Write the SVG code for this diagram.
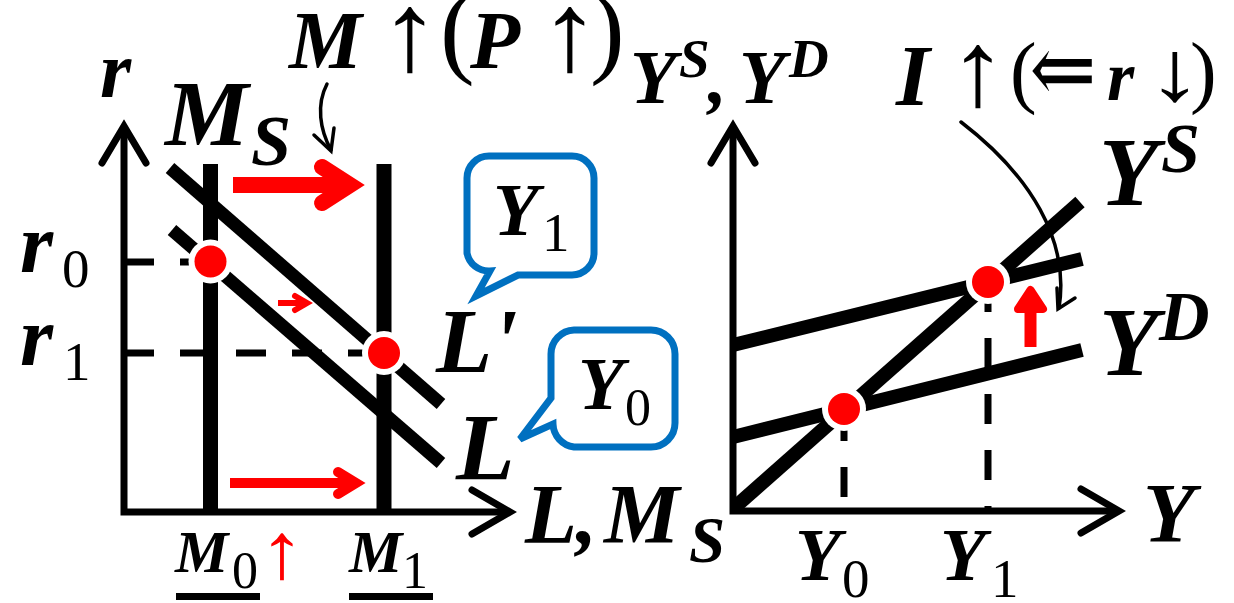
<svg xmlns="http://www.w3.org/2000/svg" width="1234" height="603" viewBox="0 0 1234 603">
<style>
.ax{fill:none;stroke:#000;stroke-width:7;stroke-linejoin:miter}
.ah{fill:none;stroke:#000;stroke-width:7;stroke-linecap:round;stroke-linejoin:miter}
.thick{fill:none;stroke:#000;stroke-width:14;stroke-linecap:butt}
.dash{fill:none;stroke:#000;stroke-width:7;stroke-dasharray:30 26}
.thin{fill:none;stroke:#000;stroke-width:3.5;stroke-linecap:round;stroke-linejoin:miter}
.red{fill:none;stroke:#FF0000;stroke-linecap:butt}
.redh{fill:none;stroke:#FF0000;stroke-linecap:round;stroke-linejoin:miter;stroke-miterlimit:10}
.bub{fill:#fff;stroke:#0070C0;stroke-width:7;stroke-linejoin:miter}
.v{font-family:"Liberation Serif","Times New Roman",serif;font-weight:bold;font-style:italic;fill:#000}
.n{font-family:"Liberation Serif","Times New Roman",serif;font-weight:normal;font-style:normal;fill:#000}
.s{font-family:"Liberation Serif","DejaVu Serif",serif;font-weight:normal;fill:#000}
.c{text-anchor:middle}
</style>

<g id="left-axes">
  <path class="ax" d="M124,126 V512 H510"/>
  <path class="ah" d="M102,163 L124,126 L146,163"/>
  <path class="ah" d="M472,490 L510,512 L472,534"/>
</g>

<g id="right-axes">
  <path class="ax" d="M733,126 V511 H1119"/>
  <path class="ah" d="M711,163 L733,126 L755,163"/>
  <path class="ah" d="M1081,489 L1119,511 L1081,533"/>
</g>

<g id="connectors">
  <path class="dash" d="M124,262 H210"/>
  <path class="dash" d="M124,353 H384"/>
  <path class="thick" style="stroke-width:15" d="M210.5,164 V512"/>
  <path class="thick" style="stroke-width:15" d="M384,164 V512"/>
  <path class="thick" style="stroke-width:13" d="M170,168 L441,404"/>
  <path class="thick" style="stroke-width:13" d="M172,230 L441,463"/>
  <path class="red" style="stroke-width:16" d="M233,185 H350"/>
  <path class="redh" style="stroke-width:16" d="M322,167 L350,185 L322,203"/>
  <path class="red" style="stroke-width:10" d="M230,483 H352"/>
  <path class="redh" style="stroke-width:10" d="M338,472 L356,483 L338,494"/>
  <path class="red" style="stroke-width:6" d="M278,303 H305"/>
  <path class="redh" style="stroke-width:6" d="M295,296 L307,303 L295,310"/>
  <path class="thin" d="M327,84 C316,105 320,130 331,150"/>
  <path class="thin" d="M314,135 L331,151 L334,128"/>
  <path class="dash" d="M844,411 V512"/>
  <path class="dash" d="M988,282 V511"/>
  <path class="thick" d="M735,507 L1080,202"/>
  <path class="thick" d="M733,437 L1082,350"/>
  <path class="thick" d="M733,345 L1082,259"/>
  <path class="red" style="stroke-width:12" d="M1030.5,347 V300"/>
  <path style="fill:#FF0000;stroke:#FF0000;stroke-width:8;stroke-linejoin:round" d="M1018,309 L1030.5,290 L1043,309 Z"/>
  <path class="thin" d="M961,122 C1030,175 1070,240 1059,308"/>
  <path class="thin" d="M1057,288 L1058,309 L1075,298"/>
</g>

<g id="dot-r0"><circle cx="210.5" cy="261.5" r="22" fill="#fff"/><circle cx="210.5" cy="261.5" r="16" fill="#FF0000"/></g>
<g id="dot-r1"><circle cx="384" cy="353" r="22" fill="#fff"/><circle cx="384" cy="353" r="16" fill="#FF0000"/></g>
<g id="dot-y0"><circle cx="844" cy="409" r="22" fill="#fff"/><circle cx="844" cy="409" r="16" fill="#FF0000"/></g>
<g id="dot-y1"><circle cx="988" cy="282" r="22" fill="#fff"/><circle cx="988" cy="282" r="16" fill="#FF0000"/></g>

<g id="bubble-y1">
  <path class="bub" d="M489,156 H572 A22,22 0 0 1 594,178 V253 A22,22 0 0 1 572,275 H518 L476,296 L490,271 A22,22 0 0 1 467,253 V178 A22,22 0 0 1 489,156 Z"/>
  <text class="v" x="493" y="235" font-size="75">Y</text>
  <text class="n" x="542" y="251" font-size="55">1</text>
</g>

<g id="bubble-y0">
  <path class="bub" d="M574,330 H651 A24,24 0 0 1 675,354 V423 A24,24 0 0 1 651,447 H574 A24,24 0 0 1 553,424 L520,439 L551,398 V354 A24,24 0 0 1 574,330 Z"/>
  <text class="v" x="578" y="409" font-size="75">Y</text>
  <text class="n" x="625" y="425" font-size="52">0</text>
</g>

<g id="labels-left">
  <text class="v" x="100" y="97" font-size="80">r</text>
  <text class="v" x="165" y="145" font-size="94">M</text>
  <text class="v" x="251" y="165" font-size="72">S</text>
  <text class="v" x="289" y="68" font-size="82">M</text>
  <text class="s c" font-size="88" transform="translate(410,70) scale(1.4,1.27)">↑</text>
  <text class="s" x="440" y="64" font-size="104">(</text>
  <text class="v" x="470" y="68" font-size="82">P</text>
  <text class="s c" font-size="88" transform="translate(570,70) scale(1.4,1.27)">↑</text>
  <text class="s" x="590" y="64" font-size="104">)</text>
  <text class="v" x="20" y="272" font-size="85">r</text>
  <text class="n" x="62" y="287" font-size="55">0</text>
  <text class="v" x="20" y="365" font-size="85">r</text>
  <text class="n" x="63" y="380" font-size="55">1</text>
  <text class="v" x="436" y="372" font-size="92">L</text>
  <text class="v" x="492" y="372" font-size="92">'</text>
  <text class="v" x="456" y="480" font-size="96">L</text>
  <text class="v" x="525" y="543" font-size="85">L</text>
  <text class="v" x="576" y="543" font-size="85">,</text>
  <text class="v" x="604" y="543" font-size="85">M</text>
  <text class="v" x="689" y="562" font-size="65">S</text>
  <text class="v" x="175" y="572" font-size="60">M</text>
  <text class="n" x="232" y="588" font-size="52">0</text>
  <rect x="176" y="593" width="84" height="7" fill="#000"/>
  <text class="s c" font-size="70" style="fill:#FF0000" transform="translate(282,578) scale(1.3,1.13)">↑</text>
  <text class="v" x="349" y="572" font-size="60">M</text>
  <text class="n" x="402" y="588" font-size="52">1</text>
  <rect x="349" y="593" width="84" height="7" fill="#000"/>
</g>

<g id="labels-right">
  <text class="v" x="630" y="103" font-size="76">Y</text>
  <text class="v" x="679" y="77" font-size="55">S</text>
  <text class="v" x="708" y="103" font-size="76">,</text>
  <text class="v" x="739" y="103" font-size="76">Y</text>
  <text class="v" x="789" y="77" font-size="55">D</text>
  <text class="v" x="896" y="105" font-size="87">I</text>
  <text class="s c" font-size="84" transform="translate(978,105) scale(1.4,1.27)">↑</text>
  <text class="s" x="1010" y="98" font-size="80">(</text>
  <text class="s c" font-size="76" transform="translate(1063,103) scale(1.05,1.3)">⇐</text>
  <text class="v" x="1107" y="100" font-size="70">r</text>
  <text class="s c" font-size="66" transform="translate(1175,100) scale(1.7,1.3)">↓</text>
  <text class="s" x="1190" y="98" font-size="80">)</text>
  <text class="v" x="1099" y="205" font-size="97">Y</text>
  <text class="v" x="1161" y="172" font-size="70">S</text>
  <text class="v" x="1099" y="375" font-size="97">Y</text>
  <text class="v" x="1159" y="340" font-size="70">D</text>
  <text class="v" x="1143" y="542" font-size="85">Y</text>
  <text class="v" x="795" y="580" font-size="75">Y</text>
  <text class="n" x="842" y="597" font-size="55">0</text>
  <text class="v" x="940" y="580" font-size="75">Y</text>
  <text class="n" x="991" y="597" font-size="55">1</text>
</g>
</svg>
